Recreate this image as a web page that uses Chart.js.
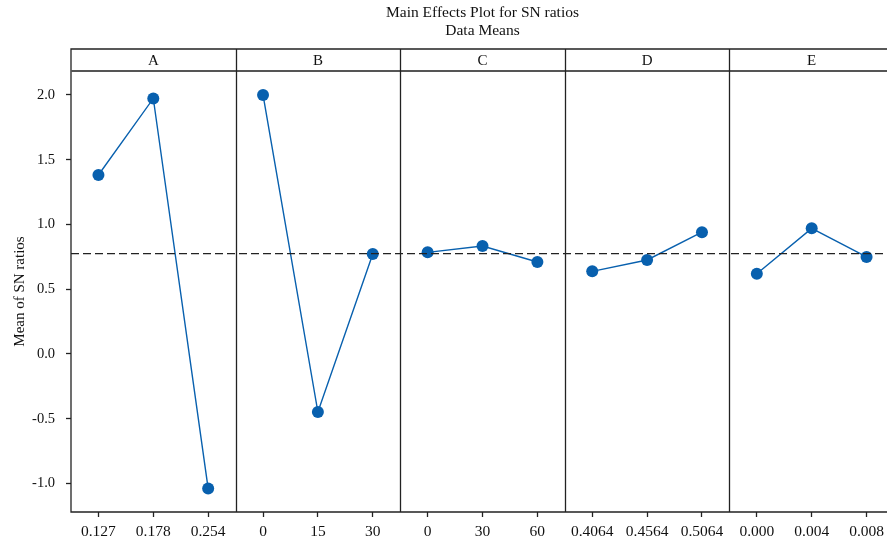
<!DOCTYPE html>
<html>
<head>
<meta charset="utf-8">
<script src="https://cdn.jsdelivr.net/npm/chart.js@4/dist/chart.umd.min.js"></script>
<style>
  html, body { margin: 0; padding: 0; background: #fff; overflow: hidden; }
  #wrap { width: 900px; height: 546px; }
</style>
</head>
<body>
<div id="wrap"><canvas id="chart" width="900" height="546"></canvas></div>
<script>
const FACTORS  = ['A', 'B', 'C', 'D', 'E'];
const LEVELS_A = ['0.127', '0.178', '0.254'];
const LEVELS_B = ['0', '15', '30'];
const LEVELS_C = ['0', '30', '60'];
const LEVELS_D = ['0.4064', '0.4564', '0.5064'];
const LEVELS_E = ['0.000', '0.004', '0.008'];
const MEANS_A  = [1.382, 1.973, -1.039];
const MEANS_B  = [2.000, -0.448, 0.772];
const MEANS_C  = [0.785, 0.834, 0.710];
const MEANS_D  = [0.638, 0.726, 0.940];
const MEANS_E  = [0.620, 0.970, 0.749];
const GRAND_MEAN = 0.775;
const Y_TICKS  = [-1.0, -0.5, 0.0, 0.5, 1.0, 1.5, 2.0];

const LEVELS = [LEVELS_A, LEVELS_B, LEVELS_C, LEVELS_D, LEVELS_E];
const MEANS  = [MEANS_A, MEANS_B, MEANS_C, MEANS_D, MEANS_E];
const FONT = "'Liberation Serif', 'DejaVu Serif', serif";
const BLUE = '#0860AE';

// each panel is 3 units wide on the x scale, levels sit at 0.5 / 1.5 / 2.5
const xPos = (panel, i) => panel * 3 + i + 0.5;
const xTickValues = [];
const xTickLabels = [];
LEVELS.forEach((lv, p) => lv.forEach((l, i) => { xTickValues.push(xPos(p, i)); xTickLabels.push(l); }));

const datasets = MEANS.map((m, p) => ({
  data: m.map((v, i) => ({ x: xPos(p, i), y: v })),
  borderColor: BLUE,
  backgroundColor: BLUE,
  borderWidth: 1.4,
  pointRadius: 6,
  pointBorderWidth: 0,
  pointHoverRadius: 6,
}));

// grand mean reference line
datasets.unshift({
  data: [{ x: 0, y: GRAND_MEAN }, { x: 15, y: GRAND_MEAN }],
  borderColor: '#222',
  borderWidth: 1.3,
  borderDash: [8, 4],
  pointRadius: 0,
});

const panelFrame = {
  id: 'panelFrame',
  afterDraw(chart) {
    const { ctx, chartArea: a, scales: { x } } = chart;
    const headTop = 49;
    ctx.save();
    ctx.strokeStyle = '#222';
    ctx.lineWidth = 1.3;
    // outer frame
    ctx.beginPath();
    ctx.moveTo(a.right + 10, headTop);
    ctx.lineTo(a.left, headTop);
    ctx.lineTo(a.left, a.bottom);
    ctx.lineTo(a.right + 10, a.bottom);
    ctx.stroke();
    // header bottom line
    ctx.strokeStyle = '#555';
    ctx.lineWidth = 2;
    ctx.beginPath();
    ctx.moveTo(a.left, a.top);
    ctx.lineTo(a.right + 10, a.top);
    ctx.stroke();
    // panel dividers
    ctx.strokeStyle = '#222';
    ctx.lineWidth = 1.3;
    for (let p = 1; p <= FACTORS.length; p++) {
      const px = Math.round(x.getPixelForValue(p * 3)) + 0.5;
      ctx.beginPath();
      ctx.moveTo(px, headTop);
      ctx.lineTo(px, a.bottom);
      ctx.stroke();
    }
    // header labels
    ctx.fillStyle = '#111';
    ctx.font = '15px ' + FONT;
    ctx.textAlign = 'center';
    ctx.textBaseline = 'middle';
    FACTORS.forEach((f, p) => {
      ctx.fillText(f, x.getPixelForValue(p * 3 + 1.5), (headTop + a.top) / 2 + 1);
    });
    // title
    ctx.font = '15.5px ' + FONT;
    const cx = (a.left + a.right) / 2;
    ctx.fillText('Main Effects Plot for SN ratios', cx, 13);
    ctx.fillText('Data Means', cx, 31);
    ctx.restore();
  }
};

new Chart(document.getElementById('chart'), {
  type: 'line',
  data: { datasets },
  plugins: [panelFrame],
  options: {
    responsive: false,
    animation: false,
    layout: { padding: { top: 71, right: 5, left: 0, bottom: 0 } },
    plugins: { legend: { display: false }, tooltip: { enabled: false } },
    scales: {
      x: {
        type: 'linear',
        min: 0,
        max: 15,
        afterBuildTicks: s => { s.ticks = xTickValues.map(v => ({ value: v })); },
        afterFit: s => { s.height = 34; },
        border: { display: false },
        grid: { drawOnChartArea: false, tickLength: 5, color: '#222', tickWidth: 1.3 },
        ticks: {
          autoSkip: false,
          maxRotation: 0,
          padding: 6,
          color: '#111',
          font: { family: FONT, size: 15.5 },
          callback: (v, i) => xTickLabels[i],
        },
      },
      y: {
        min: -1.22,
        max: 2.185,
        afterBuildTicks: s => { s.ticks = Y_TICKS.map(v => ({ value: v })); },
        afterFit: s => { s.width = 71; },
        border: { display: false },
        grid: { drawOnChartArea: false, tickLength: 5, color: '#222', tickWidth: 1.3 },
        title: {
          display: true,
          text: 'Mean of SN ratios',
          color: '#111',
          font: { family: FONT, size: 15 },
          padding: { top: 11, bottom: 0 },
        },
        ticks: {
          padding: 11,
          color: '#111',
          font: { family: FONT, size: 14.5 },
          callback: v => v.toFixed(1),
        },
      },
    },
  },
});
</script>
</body>
</html>
